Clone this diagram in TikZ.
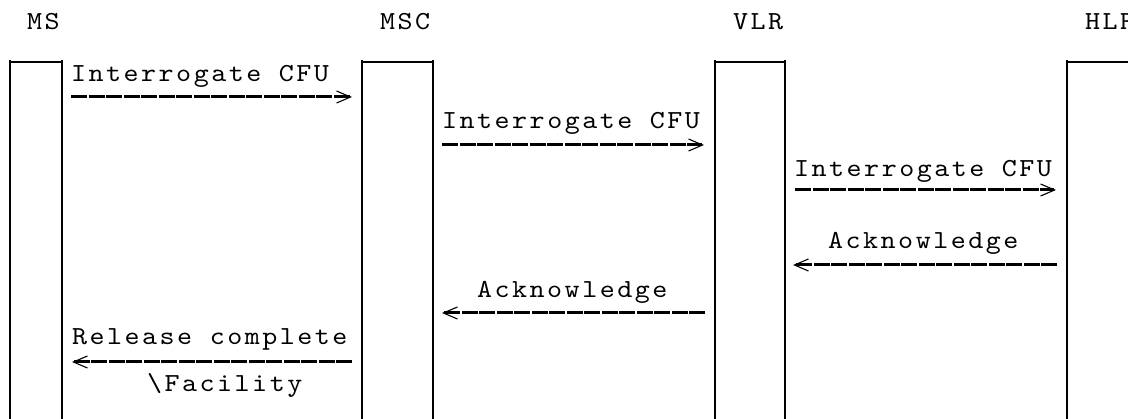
\documentclass[tikz,border=0pt]{standalone}
\usepackage{fontspec}
\newfontfamily\ttyfont{lmmono10-regular}[Extension=.otf,FakeStretch=1.1,LetterSpace=9.6]
\usetikzlibrary{arrows.meta}

\begin{document}
\begin{tikzpicture}[x=1pt,y=-1pt]
      \tikzset{lifeline/.style={line width=2pt},
          boxtop/.style={line width=1.3pt},
          msgtext/.style={anchor=base west,
          inner sep=0pt,
          font=\ttyfont\fontsize{26}{26}\selectfont},
          msg/.style={line width=3pt,
          dash pattern=on 16pt off 1.5pt,
          -{Straight Barb[length=14pt,width=12pt,line width=1.1pt]}}
      }
      \useasboundingbox (0,0) rectangle (1128,419);

      % entities
      \node [msgtext] (MS) at (27,30) {MS};
      \node [msgtext] (MSC) at (380,30) {MSC};
      \node [msgtext] (VLR) at (733,30) {VLR};
      \node [msgtext] (HLR) at (1085,30) {HLR};

      \foreach \n/\l/\r in {ms/10/62, msc/362/433, vlr/715/785}{
        \coordinate (\n L) at (\l,60);
        \coordinate (\n R) at (\r,60);
        \draw [boxtop] (\l,62)--(\r,62);
        \draw [lifeline] (\n L)--(\l,419);
        \draw [lifeline] (\n R)--(\r,419);
      }
      \coordinate (hlrL) at (1067,60);
      \draw [boxtop] (1067,62)--(1128,62);
      \draw [lifeline] (hlrL)--(1067,419);

      % messages
      \node [msgtext] (m1) at (71,82) {Interrogate CFU};
      \coordinate (m1a) at (71,97);
      \coordinate (m1b) at (352,97);
      \draw [msg] (m1a)--(m1b);

      \node [msgtext] (m2) at (442,129) {Interrogate CFU};
      \coordinate (m2a) at (442,145);
      \coordinate (m2b) at (704,145);
      \draw [msg] (m2a)--(m2b);

      \node [msgtext] (m3) at (794,177) {Interrogate CFU};
      \coordinate (m3a) at (795,190);
      \coordinate (m3b) at (1056,190);
      \draw [msg] (m3a)--(m3b);

      \node [msgtext] (m4) at (828,249) {Acknowledge};
      \coordinate (m4a) at (1057,265);
      \coordinate (m4b) at (793,265);
      \draw [msg] (m4a)--(m4b);

      \node [msgtext] (m5) at (477,298) {Acknowledge};
      \coordinate (m5a) at (705,313);
      \coordinate (m5b) at (442,313);
      \draw [msg] (m5a)--(m5b);

      \node [msgtext] (m6) at (72,345) {Release complete};
      \node [msgtext] (m6f) at (147,392) {\textbackslash Facility};
      \coordinate (m6a) at (352,362);
      \coordinate (m6b) at (72,362);
      \draw [msg] (m6a)--(m6b);
    \end{tikzpicture}
\end{document}
